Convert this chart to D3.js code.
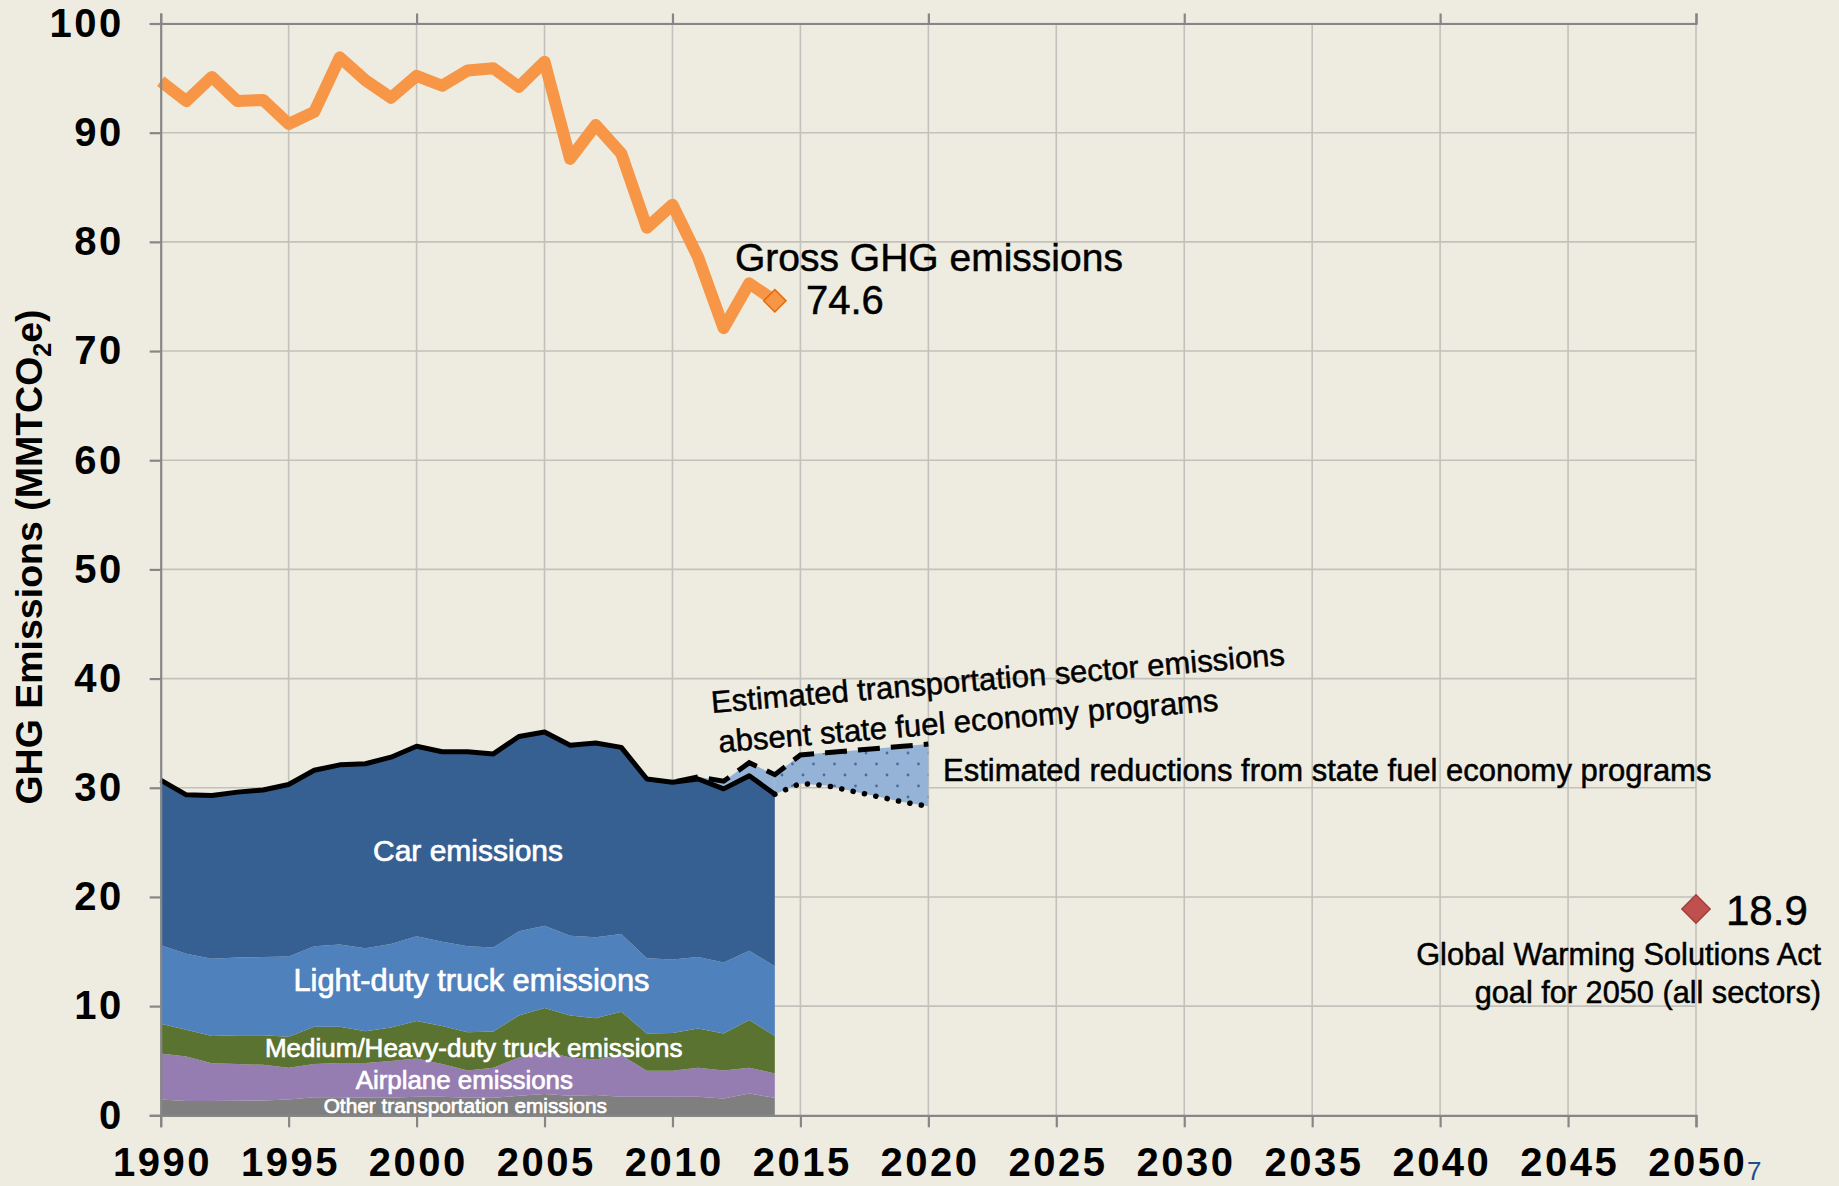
<!DOCTYPE html>
<html><head><meta charset="utf-8">
<script src="https://cdn.jsdelivr.net/npm/d3@7"></script>
<style>
html,body{margin:0;padding:0;background:#eeece1;}
svg{display:block;}
</style></head>
<body>
<svg id="chart" width="1839" height="1186"></svg>
<script>
// ---------------- data ----------------
const years = [1990,1991,1992,1993,1994,1995,1996,1997,1998,1999,2000,2001,2002,2003,2004,2005,2006,2007,2008,2009,2010,2011,2012,2013,2014];
const grossGHG = [94.7,92.9,95.1,92.9,93.0,90.8,91.9,96.9,94.8,93.2,95.2,94.3,95.7,95.9,94.2,96.5,87.6,90.7,88.1,81.3,83.4,78.6,72.1,76.2,74.6];
const otherTransport = [1.44,1.30,1.30,1.33,1.35,1.45,1.65,1.65,1.60,1.60,1.70,1.70,1.60,1.60,1.78,1.95,1.80,1.85,1.70,1.70,1.70,1.70,1.55,2.00,1.60];
const airplane = [4.21,4.08,3.46,3.36,3.27,2.90,3.04,3.14,3.19,3.37,3.50,2.99,2.50,2.75,3.52,3.95,3.50,3.25,3.80,2.38,2.38,2.65,2.55,2.35,2.24];
const mediumHeavyTruck = [2.74,2.46,2.50,2.64,2.71,2.84,3.41,3.31,2.91,3.08,3.43,3.49,3.50,3.32,3.84,3.93,3.84,3.80,3.99,3.42,3.45,3.60,3.40,4.38,3.42];
const lightDutyTruck = [7.19,6.96,7.09,7.12,7.17,7.36,7.38,7.55,7.60,7.65,7.77,7.72,7.88,7.71,7.71,7.53,7.30,7.40,7.11,6.88,6.75,6.55,6.50,6.34,6.40];
const car = [15.12,14.55,14.95,15.15,15.30,15.75,16.12,16.45,16.90,17.10,17.40,17.40,17.82,17.72,17.85,17.74,17.46,17.80,17.10,16.42,16.22,16.30,15.90,16.03,15.74];

const absentYears = [2010,2011,2012,2013,2014,2015,2016,2017,2018,2019,2020];
const absentPrograms = [30.5,31.0,30.6,32.3,31.2,33.0,33.2,33.4,33.6,33.8,34.0];
const withYears = [2014,2015,2016,2017,2018,2019,2020];
const withPrograms = [29.4,30.4,30.2,29.7,29.2,28.7,28.3];

const goalYear = 2050, goalValue = 18.9;
const lastYear = 2014, lastGross = 74.6;

const yTicks = [0,10,20,30,40,50,60,70,80,90,100];
const xTicks = [1990,1995,2000,2005,2010,2015,2020,2025,2030,2035,2040,2045,2050];
const topTicks = [1990,2000,2010,2020,2030,2040,2050];

const layerKeys = ["other","airplane","medium","light","car"];
const layerColors = {other:"#7f7f7f", airplane:"#957db2", medium:"#5b7330", light:"#4f81bd", car:"#366092"};
const layerLabels = [
  {key:"car", text:"Car emissions"},
  {key:"light", text:"Light-duty truck emissions"},
  {key:"medium", text:"Medium/Heavy-duty truck emissions"},
  {key:"airplane", text:"Airplane emissions"},
  {key:"other", text:"Other transportation emissions"}
];

// ---------------- setup ----------------
const svg = d3.select("#chart");
const W = 1839, H = 1186;
svg.append("rect").attr("width",W).attr("height",H).attr("fill","#eeece1");

const x = d3.scaleLinear().domain([1990,2050]).range([160.7,1696]);
const y = d3.scaleLinear().domain([0,100]).range([1115.3,23.5]);

const SANS = "'Liberation Sans',Arial,sans-serif";

const defs = svg.append("defs");
const pat = defs.append("pattern").attr("id","dots").attr("patternUnits","userSpaceOnUse")
  .attr("width",21).attr("height",22);
pat.append("rect").attr("width",21).attr("height",22).attr("fill","#95b3d7");
pat.append("circle").attr("cx",5).attr("cy",5).attr("r",1.4).attr("fill","#4a6c9b");
pat.append("circle").attr("cx",15.5).attr("cy",16).attr("r",1.4).attr("fill","#4a6c9b");

// grid
const grid = svg.append("g");
grid.selectAll("line.h").data(yTicks.filter(d=>d>0)).join("line")
  .attr("x1",x(1990)).attr("x2",x(2050)).attr("y1",d=>y(d)).attr("y2",d=>y(d))
  .attr("stroke","#c3c1bb").attr("stroke-width",1.6);
grid.selectAll("line.v").data(xTicks.filter(d=>d>1990)).join("line")
  .attr("x1",d=>x(d)).attr("x2",d=>x(d)).attr("y1",y(100)).attr("y2",y(0))
  .attr("stroke","#c3c1bb").attr("stroke-width",1.6);

// stacked areas
const table = years.map((yr,i)=>({year:yr, other:otherTransport[i], airplane:airplane[i], medium:mediumHeavyTruck[i], light:lightDutyTruck[i], car:car[i]}));
const stacked = d3.stack().keys(layerKeys)(table);
const area = d3.area().x(d=>x(d.data.year)).y0(d=>y(d[0])).y1(d=>y(d[1]));
svg.append("g").selectAll("path").data(stacked).join("path")
  .attr("d",area).attr("fill",d=>layerColors[d.key]);

const totals = stacked[stacked.length-1].map(d=>({year:d.data.year, v:d[1]}));

// projection fills
const absent = absentYears.map((yr,i)=>({year:yr, v:absentPrograms[i]}));
const withP = withYears.map((yr,i)=>({year:yr, v:withPrograms[i]}));
const totalByYear = new Map(totals.map(d=>[d.year,d.v]));
const histBand = absent.filter(d=>d.year<=2014).map(d=>({year:d.year, top:d.v, bot:totalByYear.get(d.year)}));
svg.append("path").datum(histBand)
  .attr("d", d3.area().x(d=>x(d.year)).y0(d=>y(d.bot)).y1(d=>y(Math.max(d.top,d.bot))))
  .attr("fill","#95b3d7");
const withMap = new Map(withP.map(d=>[d.year,d.v]));
const projBand = absent.filter(d=>d.year>=2014).map(d=>({year:d.year, top:d.v, bot:withMap.get(d.year)}));
svg.append("path").datum(projBand)
  .attr("d", d3.area().x(d=>x(d.year)).y0(d=>y(d.bot)).y1(d=>y(d.top)))
  .attr("fill","url(#dots)");

// total line
const line = d3.line().x(d=>x(d.year)).y(d=>y(d.v));
svg.append("path").datum(totals).attr("d",line).attr("fill","none")
  .attr("stroke","#000").attr("stroke-width",5).attr("stroke-linejoin","round");
// dashed absent-programs line
svg.append("path").datum(absent).attr("d",line).attr("fill","none")
  .attr("stroke","#000").attr("stroke-width",5).attr("stroke-dasharray","22 11").attr("stroke-dashoffset",-4);
// dotted with-programs line
svg.append("path").datum(withP).attr("d",line).attr("fill","none")
  .attr("stroke","#000").attr("stroke-width",5.5).attr("stroke-linecap","round").attr("stroke-dasharray","0.1 11.5");

// gross GHG line
const gross = years.map((yr,i)=>({year:yr, v:grossGHG[i]}));
svg.append("path").datum(gross).attr("d",line).attr("fill","none")
  .attr("stroke","#f79646").attr("stroke-width",12).attr("stroke-linejoin","round").attr("stroke-linecap","butt");

// markers
svg.append("path").attr("d",d3.symbol().type(d3.symbolSquare).size(250)())
  .attr("transform",`translate(${x(lastYear)},${y(lastGross)}) rotate(45)`)
  .attr("fill","#f79646").attr("stroke","#e36c09").attr("stroke-width",1.5);
svg.append("path").attr("d",d3.symbol().type(d3.symbolSquare).size(400)())
  .attr("transform",`translate(${x(goalYear)},${y(goalValue)}) rotate(45)`)
  .attr("fill","#c0504d").attr("stroke","#a33f3c").attr("stroke-width",1.5);

// axes
const axisColor = "#868686";
const yAxis = svg.append("g").attr("transform",`translate(${x(1990)},0)`)
  .call(d3.axisLeft(y).tickValues(yTicks).tickSize(11).tickPadding(26).tickFormat(d3.format("d")));
const xAxis = svg.append("g").attr("transform",`translate(0,${y(0)})`)
  .call(d3.axisBottom(x).tickValues(xTicks).tickSize(12).tickPadding(20).tickFormat(d3.format("d")));
const topAxis = svg.append("g").attr("transform",`translate(0,${y(100)})`)
  .call(d3.axisTop(x).tickValues(topTicks).tickSize(10).tickFormat(""));
[yAxis,xAxis,topAxis].forEach(g=>{
  g.select(".domain").attr("stroke",axisColor).attr("stroke-width",2.2);
  g.selectAll(".tick line").attr("stroke",axisColor).attr("stroke-width",2.2);
  g.selectAll("text").attr("fill","#000").attr("font-family",SANS).attr("font-weight","bold")
    .attr("font-size",40).attr("letter-spacing",2.5);
});
xAxis.selectAll("text").attr("dx",1.25);

// y axis title
const yt = svg.append("text").attr("transform",`translate(42,${557}) rotate(-90)`)
  .attr("text-anchor","middle").attr("font-family",SANS).attr("font-weight","bold").attr("font-size",37.5).attr("fill","#000");
yt.append("tspan").text("GHG Emissions (MMTCO");
yt.append("tspan").text("2").attr("font-size",25).attr("dy",9);
yt.append("tspan").text("e)").attr("dy",-9);

// layer labels
const labelPos = {car:[468,861,30], light:[471.5,991,30.8], medium:[473.7,1057,26], airplane:[464.3,1088.5,25.9], other:[465.3,1112.7,20.8]};
svg.append("g").selectAll("text").data(layerLabels).join("text")
  .attr("x",d=>labelPos[d.key][0]).attr("y",d=>labelPos[d.key][1])
  .attr("font-size",d=>labelPos[d.key][2])
  .attr("text-anchor","middle").attr("font-family",SANS).attr("fill","#fff")
  .attr("stroke","#fff").attr("stroke-width",0.7)
  .text(d=>d.text);

// annotations
function note(xp, yp, size, txt, anchor){
  return svg.append("text").attr("x",xp).attr("y",yp).attr("font-family",SANS).attr("font-size",size)
    .attr("fill","#000").attr("stroke","#000").attr("stroke-width",0.5)
    .attr("text-anchor",anchor||"start").text(txt);
}
note(735,271,39,"Gross GHG emissions");
note(806,314,40,lastGross.toFixed(1));
note(1726,925,42,goalValue.toFixed(1));
note(1821,965,30.7,"Global Warming Solutions Act","end");
note(1821,1003,30.7,"goal for 2050 (all sectors)","end");
note(943,781,31,"Estimated reductions from state fuel economy programs");

const rot = svg.append("g").attr("transform","translate(712,713) rotate(-4.8)");
rot.append("text").attr("x",0).attr("y",0).attr("font-family",SANS).attr("font-size",31)
  .attr("fill","#000").attr("stroke","#000").attr("stroke-width",0.5).text("Estimated transportation sector emissions");
rot.append("text").attr("x",4).attr("y",40).attr("font-family",SANS).attr("font-size",31)
  .attr("fill","#000").attr("stroke","#000").attr("stroke-width",0.5).text("absent state fuel economy programs");

svg.append("text").attr("x",1747).attr("y",1180).attr("font-family",SANS).attr("font-size",26).attr("fill","#1f4e8c").text("7");
</script>
</body></html>
